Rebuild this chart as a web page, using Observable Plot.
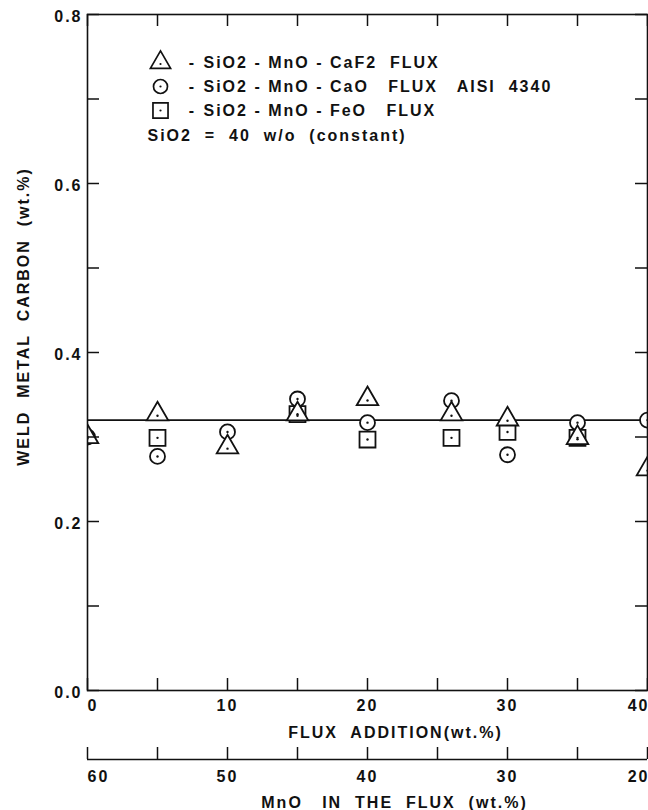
<!DOCTYPE html>
<html><head><meta charset="utf-8">
<script src="https://cdn.jsdelivr.net/npm/d3@7"></script>
<script src="https://cdn.jsdelivr.net/npm/@observablehq/plot@0.6"></script>
<style>
body{margin:0;background:#fff;}
svg text{white-space:pre;}
</style></head><body><div id="chart"></div>
<script>
// ---- data ----
const fluxCaF2   = [0, 5, 10, 15, 20, 26, 30, 35, 40];
const carbonCaF2 = [0.300, 0.327, 0.288, 0.327, 0.345, 0.327, 0.321, 0.299, 0.262];
const fluxCaO    = [0, 5, 10, 15, 20, 26, 30, 35, 40];
const carbonCaO  = [0.300, 0.277, 0.306, 0.345, 0.317, 0.343, 0.279, 0.317, 0.320];
const fluxFeO    = [5, 15, 20, 26, 30, 35];
const carbonFeO  = [0.299, 0.327, 0.297, 0.299, 0.306, 0.299];
const meanCarbon = [0.32];

const xTickValues  = [0, 5, 10, 15, 20, 25, 30, 35, 40];
const xLabelValues = [0, 10, 20, 30, 40];
const mnoLabels    = ["60", "50", "40", "30", "20"];
const yTickValues  = [0, 0.1, 0.2, 0.3, 0.4, 0.5, 0.6, 0.7, 0.8];
const yLabelValues = [0, 0.2, 0.4, 0.6, 0.8];
const yLabelTexts  = ["0.0", "0.2", "0.4", "0.6", "0.8"];

const legendSymbols = ["triangle", "circle", "square"];
const legendTexts = [
  "SiO2 - MnO - CaF2  FLUX",
  "SiO2 - MnO - CaO   FLUX   AISI  4340",
  "SiO2 - MnO - FeO   FLUX"
];
const noteText = "SiO2  =  40  w/o  (constant)";
const xTitle = "FLUX  ADDITION(wt.%)";
const x2Title = "MnO   IN  THE  FLUX  (wt.%)";
const yTitle = "WELD  METAL  CARBON  (wt.%)";

// ---- tables ----
const rows = (xs, ys) => xs.map((x, i) => ({x, y: ys[i]}));
const caf2 = rows(fluxCaF2, carbonCaF2);
const cao  = rows(fluxCaO, carbonCaO);
const feo  = rows(fluxFeO, carbonFeO);
const primaryLabels = xLabelValues.map((x, i) => ({x, label: String(x), i}));
const mnoAxisLabels = xLabelValues.map((x, i) => ({x, label: mnoLabels[i], i}));

const W = 648, H = 810;
const mL = 87, mR = 1, mT = 14, mB = 120;
const fw = W - mL - mR, fh = H - mT - mB;
const tick = 12;
const font = "Liberation Sans, Arial, sans-serif";
const last = xLabelValues.length - 1;

const marker = {stroke: "#111", strokeWidth: 1.8, fill: "white", clip: true};
const center = {fill: "#111", r: 1.2, clip: true};
const sizes = {circle: 7.5, square: 9, triangle: 8};

// bottom labels: first label starts at the corner, last one ends at the edge
function edgeLabels(data, dy) {
  const base = {x: "x", text: "label", frameAnchor: "bottom", lineAnchor: "middle", dy};
  return [
    Plot.text(data, {...base, filter: d => d.i === 0, textAnchor: "start"}),
    Plot.text(data, {...base, filter: d => d.i > 0 && d.i < last, textAnchor: "middle"}),
    Plot.text(data, {...base, filter: d => d.i === last, textAnchor: "end", dx: 2})
  ];
}

const marks = [
  Plot.ruleY(meanCarbon, {stroke: "#111", strokeWidth: 1.6}),
  Plot.dot(cao, {x: "x", y: "y", symbol: "circle", r: sizes.circle, ...marker}),
  Plot.dot(feo, {x: "x", y: "y", symbol: "square", r: sizes.square, ...marker}),
  Plot.dot(caf2, {x: "x", y: "y", symbol: "triangle", r: sizes.triangle, ...marker}),
  Plot.dot(cao, {x: "x", y: "y", ...center}),
  Plot.dot(feo, {x: "x", y: "y", ...center}),
  Plot.dot(caf2, {x: "x", y: "y", dy: 1.5, ...center}),
  Plot.frame({stroke: "#111", strokeWidth: 1.6}),
  // inward ticks
  Plot.ruleX(xTickValues, {x: d => d, insetTop: fh - tick, stroke: "#111", strokeWidth: 1.5}),
  Plot.ruleX(xTickValues, {x: d => d, insetBottom: fh - tick, stroke: "#111", strokeWidth: 1.5}),
  Plot.ruleY(yTickValues, {y: d => d, insetRight: fw - tick, stroke: "#111", strokeWidth: 1.5}),
  Plot.ruleY(yTickValues, {y: d => d, insetLeft: fw - tick, stroke: "#111", strokeWidth: 1.5}),
  // tick labels
  ...edgeLabels(primaryLabels, 15),
  Plot.text(yLabelValues, {y: d => d, frameAnchor: "left", lineAnchor: "middle", dx: -5, dy: 2, textAnchor: "end", text: (d, i) => yLabelTexts[i]}),
  // secondary MnO axis
  Plot.ruleY([0], {dy: 69, stroke: "#111", strokeWidth: 1.6}),
  Plot.ruleX(xTickValues, {x: d => d, insetTop: fh - tick, dy: 69, stroke: "#111", strokeWidth: 1.5}),
  ...edgeLabels(mnoAxisLabels, 86),
  // titles
  Plot.text([xTitle], {frameAnchor: "bottom", lineAnchor: "middle", textAnchor: "middle", dy: 42, dx: 28}),
  Plot.text([x2Title], {frameAnchor: "bottom", lineAnchor: "middle", textAnchor: "middle", dy: 112, dx: 27}),
  Plot.text([yTitle], {frameAnchor: "left", lineAnchor: "middle", textAnchor: "middle", dx: -64, dy: -36, rotate: -90}),
];

// legend inside the frame
legendSymbols.forEach((s, i) => {
  const dy = 48 + 24 * i;
  marks.push(Plot.dot([s], {frameAnchor: "top-left", dx: 73, dy, symbol: s, r: sizes[s] - 0.5, stroke: "#111", strokeWidth: 1.7, fill: "white"}));
  marks.push(Plot.dot([s], {frameAnchor: "top-left", dx: 73, dy: dy + (s === "triangle" ? 1.5 : 0), r: 1.1, fill: "#111"}));
  marks.push(Plot.text(["-"], {frameAnchor: "top-left", lineAnchor: "middle", textAnchor: "middle", dx: 105, dy}));
  marks.push(Plot.text([legendTexts[i]], {frameAnchor: "top-left", lineAnchor: "middle", textAnchor: "start", dx: 116, dy}));
});
marks.push(Plot.text([noteText], {frameAnchor: "top-left", lineAnchor: "middle", textAnchor: "start", dx: 60, dy: 121}));

const chart = Plot.plot({
  width: W, height: H,
  marginLeft: mL, marginRight: mR, marginTop: mT, marginBottom: mB,
  x: {domain: [0, 40], axis: null},
  y: {domain: [0, 0.8], axis: null},
  style: {fontFamily: font, fontSize: "16px", fontWeight: "bold", color: "#111", background: "white", letterSpacing: "2px"},
  marks
});
document.getElementById("chart").appendChild(chart);
</script>
</body></html>
